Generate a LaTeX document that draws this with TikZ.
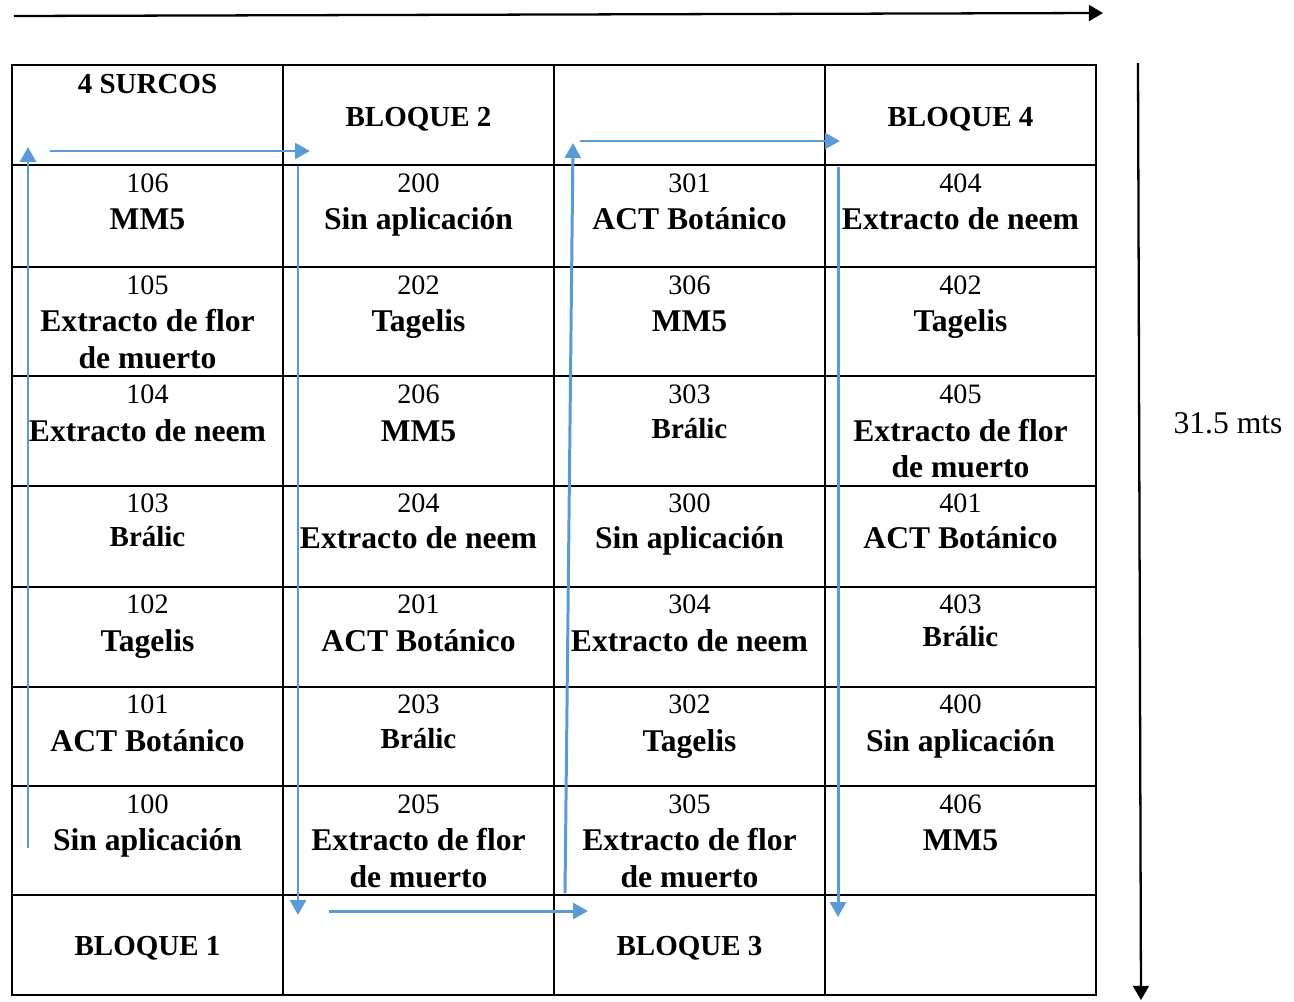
\documentclass[tikz,border=0pt]{standalone}
\usepackage{fontspec}
\setmainfont{Liberation Serif}
\usetikzlibrary{arrows.meta}

\definecolor{azul}{RGB}{91,155,213}

\tikzset{
  rejilla/.style={line width=1.2pt},
  num/.style={anchor=base,inner sep=0pt,font=\fontsize{16}{19}\selectfont},
  trat/.style={anchor=base,inner sep=0pt,font=\fontsize{18}{21}\selectfont\bfseries},
  tratchico/.style={trat,font=\fontsize{16.5}{20}\selectfont\bfseries},
  bloque/.style={anchor=base,inner sep=0pt,font=\fontsize{16.5}{20}\selectfont\bfseries},
  ruta/.style={draw=azul,line width=1.7pt,-{Triangle[length=8.5pt,width=9pt]}},
  eje/.style={line width=1.3pt,-{Triangle[length=8pt,width=9pt]}}
}

\begin{document}
\begin{tikzpicture}[x=0.02cm,y=-0.02cm]
\useasboundingbox (0,0) rectangle (1294,1001);

% rejilla de parcelas
\draw[rejilla] (12,65) rectangle (1096,995);
\foreach \x in {283,554,825}
  \draw[rejilla] (\x,65) -- (\x,995);
\foreach \y in {165,267,376,486,587,687,786,895}
  \draw[rejilla] (12,\y) -- (1096,\y);

% encabezados
\node[bloque] (surcos) at (147.5,93) {4 SURCOS};
\node[bloque] (bloque2) at (418.5,126) {BLOQUE 2};
\node[bloque] (bloque4) at (960.5,126) {BLOQUE 4};
\node[bloque] (bloque1) at (147.5,955) {BLOQUE 1};
\node[bloque] (bloque3) at (689.5,955) {BLOQUE 3};

% bloque 1
\node[num] (n106) at (147.5,192) {106};
\node[trat] (t106) at (147.5,229) {MM5};
\node[num] (n105) at (147.5,294) {105};
\node[trat] (t105) at (147.5,331) {Extracto de flor};
\node[trat] (t105b) at (147.5,368) {de muerto};
\node[num] (n104) at (147.5,403) {104};
\node[trat] (t104) at (147.5,441) {Extracto de neem};
\node[num] (n103) at (147.5,512) {103};
\node[tratchico] (t103) at (147.5,546) {Brálic};
\node[num] (n102) at (147.5,613) {102};
\node[trat] (t102) at (147.5,651) {Tagelis};
\node[num] (n101) at (147.5,713) {101};
\node[trat] (t101) at (147.5,751) {ACT Botánico};
\node[num] (n100) at (147.5,813) {100};
\node[trat] (t100) at (147.5,850) {Sin aplicación};

% bloque 2
\node[num] (n200) at (418.5,192) {200};
\node[trat] (t200) at (418.5,229) {Sin aplicación};
\node[num] (n202) at (418.5,294) {202};
\node[trat] (t202) at (418.5,331) {Tagelis};
\node[num] (n206) at (418.5,403) {206};
\node[trat] (t206) at (418.5,441) {MM5};
\node[num] (n204) at (418.5,512) {204};
\node[trat] (t204) at (418.5,548) {Extracto de neem};
\node[num] (n201) at (418.5,613) {201};
\node[trat] (t201) at (418.5,651) {ACT Botánico};
\node[num] (n203) at (418.5,713) {203};
\node[tratchico] (t203) at (418.5,748) {Brálic};
\node[num] (n205) at (418.5,813) {205};
\node[trat] (t205) at (418.5,850) {Extracto de flor};
\node[trat] (t205b) at (418.5,887) {de muerto};

% bloque 3
\node[num] (n301) at (689.5,192) {301};
\node[trat] (t301) at (689.5,229) {ACT Botánico};
\node[num] (n306) at (689.5,294) {306};
\node[trat] (t306) at (689.5,331) {MM5};
\node[num] (n303) at (689.5,403) {303};
\node[tratchico] (t303) at (689.5,438) {Brálic};
\node[num] (n300) at (689.5,512) {300};
\node[trat] (t300) at (689.5,548) {Sin aplicación};
\node[num] (n304) at (689.5,613) {304};
\node[trat] (t304) at (689.5,651) {Extracto de neem};
\node[num] (n302) at (689.5,713) {302};
\node[trat] (t302) at (689.5,751) {Tagelis};
\node[num] (n305) at (689.5,813) {305};
\node[trat] (t305) at (689.5,850) {Extracto de flor};
\node[trat] (t305b) at (689.5,887) {de muerto};

% bloque 4
\node[num] (n404) at (960.5,192) {404};
\node[trat] (t404) at (960.5,229) {Extracto de neem};
\node[num] (n402) at (960.5,294) {402};
\node[trat] (t402) at (960.5,331) {Tagelis};
\node[num] (n405) at (960.5,403) {405};
\node[trat] (t405) at (960.5,441) {Extracto de flor};
\node[trat] (t405b) at (960.5,477) {de muerto};
\node[num] (n401) at (960.5,512) {401};
\node[trat] (t401) at (960.5,548) {ACT Botánico};
\node[num] (n403) at (960.5,613) {403};
\node[tratchico] (t403) at (960.5,646) {Brálic};
\node[num] (n400) at (960.5,713) {400};
\node[trat] (t400) at (960.5,751) {Sin aplicación};
\node[num] (n406) at (960.5,813) {406};
\node[trat] (t406) at (960.5,850) {MM5};

% recorrido
\coordinate (a1) at (28,848);  \coordinate (a2) at (28,147);
\coordinate (a3) at (50,151);  \coordinate (a4) at (310,151);
\coordinate (b1) at (298,166); \coordinate (b2) at (298,915);
\coordinate (b3) at (329,911); \coordinate (b4) at (588,911);
\coordinate (c1) at (565,893); \coordinate (c2) at (573,143);
\coordinate (c3) at (580,141); \coordinate (c4) at (840,141);
\coordinate (d1) at (838,167); \coordinate (d2) at (838,917);
\draw[ruta] (a1) -- (a2);
\draw[ruta] (a3) -- (a4);
\draw[ruta] (b1) -- (b2);
\draw[ruta] (b3) -- (b4);
\draw[ruta] (c1) -- (c2);
\draw[ruta] (c3) -- (c4);
\draw[ruta] (d1) -- (d2);

% medidas
\coordinate (e1) at (14,16);   \coordinate (e2) at (1103,13);
\coordinate (f1) at (1138,63); \coordinate (f2) at (1141,1000);
\draw[eje] (e1) -- (e2);
\draw[eje] (f1) -- (f2);
\node[anchor=base,inner sep=0pt,font=\fontsize{18}{21}\selectfont] (largo) at (1228,433) {31.5 mts};
\end{tikzpicture}
\end{document}
